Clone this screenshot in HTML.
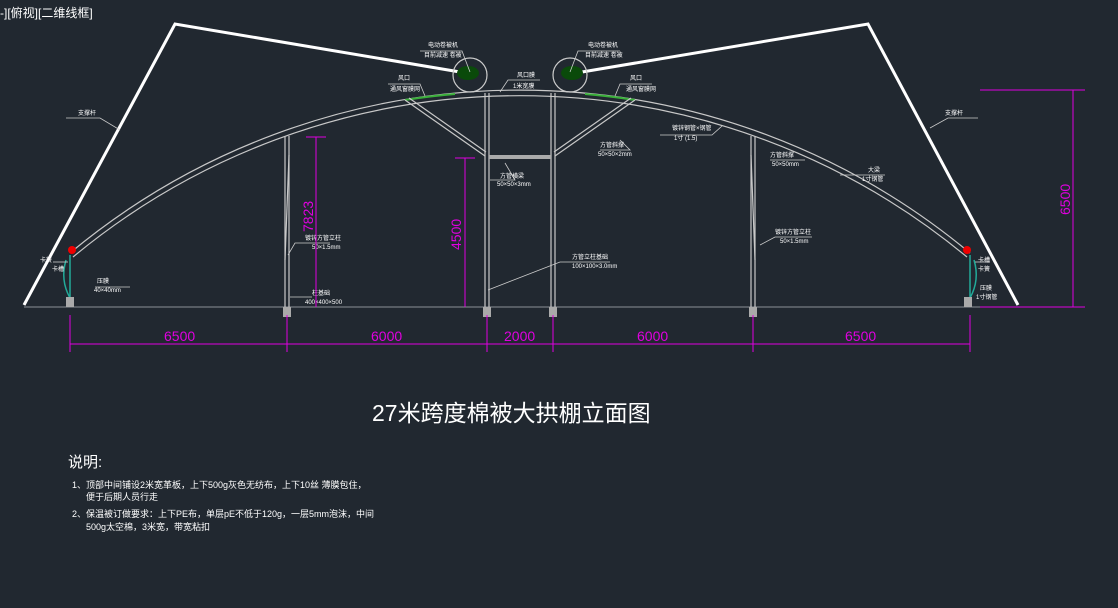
<!DOCTYPE html>
<html><head><meta charset="utf-8"><style>
body{margin:0;background:#212830;width:1118px;height:608px;overflow:hidden;font-family:"Liberation Sans","Noto Sans CJK SC",sans-serif}
svg{position:absolute;left:0;top:0}
.t{fill:#fff;font-family:"Liberation Sans","Noto Sans CJK SC",sans-serif}
</style></head><body>
<svg width="1118" height="608" viewBox="0 0 1118 608">
<text x="0" y="17" class="t" font-size="12" fill="#ddd">-][俯视][二维线框]</text>
<polyline points="24,305 175,24 460,72" fill="none" stroke="#fff" stroke-width="3"/>
<polyline points="1018,305 868,24 582,72" fill="none" stroke="#fff" stroke-width="3"/>
<line x1="24" y1="307" x2="1018" y2="307" stroke="#8a8f96" stroke-width="1"/>
<path d="M70,253 A703,703 0 0 1 970,253" fill="none" stroke="#c8c8c8" stroke-width="1.2"/>
<path d="M73,257 A700,700 0 0 1 967,257" fill="none" stroke="#c8c8c8" stroke-width="1.2"/>
<path d="M405,100 A703,703 0 0 1 455,94" fill="none" stroke="#3ab03a" stroke-width="2"/>
<path d="M585,94 A703,703 0 0 1 635,100" fill="none" stroke="#3ab03a" stroke-width="2"/>
<path d="M70,255 L70,300 M66,260 Q60,280 70,298" stroke="#2a9" stroke-width="1.5" fill="none"/>
<path d="M970,255 L970,300 M974,260 Q980,280 970,298" stroke="#2a9" stroke-width="1.5" fill="none"/>
<circle cx="72" cy="250" r="4" fill="#e00"/><circle cx="967" cy="250" r="4" fill="#e00"/>
<g stroke="#c8c8c8" stroke-width="1.2" fill="none">
<path d="M285,136 L285,307 M289,136 L289,307"/>
<path d="M751,136 L751,307 M755,136 L755,307"/>
<path d="M485,93 L485,307 M489,93 L489,307"/>
<path d="M551,93 L551,307 M555,93 L555,307"/>
<path d="M405,100 L485,156 M409,98 L486,152"/>
<path d="M635,100 L555,156 M631,98 L554,152"/>
<path d="M289,155 L285,260"/><path d="M751,155 L755,260"/>
</g>
<rect x="489" y="155" width="62" height="4" fill="#aaa"/>
<g fill="#aaa"><rect x="283" y="307" width="8" height="10"/><rect x="483" y="307" width="8" height="10"/><rect x="549" y="307" width="8" height="10"/><rect x="749" y="307" width="8" height="10"/><rect x="66" y="297" width="8" height="10"/><rect x="964" y="297" width="8" height="10"/></g>
<circle cx="470" cy="75" r="17" fill="none" stroke="#ccc" stroke-width="1.2"/>
<ellipse cx="468" cy="73" rx="11" ry="7" fill="#0a4a0a"/>
<circle cx="570" cy="75" r="17" fill="none" stroke="#ccc" stroke-width="1.2"/>
<ellipse cx="572" cy="73" rx="11" ry="7" fill="#0a4a0a"/>
<g stroke="#ccc" stroke-width="0.8" fill="none">
<path d="M420,51 L462,51 L470,72"/><path d="M620,51 L578,51 L570,72"/>
<path d="M388,84 L420,84 L425,96"/><path d="M652,84 L620,84 L615,96"/>
<path d="M540,80 L508,80 L500,92"/>
<path d="M66,118 L100,118 L120,130"/><path d="M978,118 L948,118 L930,128"/>
<path d="M660,135 L712,135 L722,126"/><path d="M600,150 L630,150 L620,140"/>
<path d="M490,180 L515,180 L505,163"/>
<path d="M330,243 L295,243 L288,255"/><path d="M812,237 L775,237 L760,245"/>
<path d="M770,160 L805,160"/><path d="M840,175 L885,175"/>
<path d="M312,297 L290,297"/><path d="M95,287 L130,287"/>
<path d="M488,290 L560,262 L610,262"/>
<path d="M53,262 L68,262"/><path d="M975,262 L990,262"/>
</g>
<g class="t" font-size="6">
<text x="428" y="47">电动卷被机</text><text x="424" y="57">目前减速 卷被</text>
<text x="588" y="47">电动卷被机</text><text x="585" y="57">目前减速 卷被</text>
<text x="398" y="80">风口</text><text x="390" y="91">通风窗膜网</text>
<text x="630" y="80">风口</text><text x="626" y="91">通风窗膜网</text>
<text x="517" y="77">风口膜</text><text x="513" y="88">1米宽膜</text>
<text x="78" y="115">支撑杆</text><text x="945" y="115">支撑杆</text>
<text x="672" y="130">镀锌钢管×钢管</text><text x="674" y="140">1寸 (1.5)</text>
<text x="600" y="147">方管斜撑</text><text x="598" y="156">50×50×2mm</text>
<text x="500" y="178">方管横梁</text><text x="497" y="186">50×50×3mm</text>
<text x="305" y="240">镀锌方管立柱</text><text x="312" y="249">50×1.5mm</text>
<text x="775" y="234">镀锌方管立柱</text><text x="780" y="243">50×1.5mm</text>
<text x="770" y="157">方管斜撑</text><text x="772" y="166">50×50mm</text>
<text x="868" y="172">大梁</text><text x="862" y="181">1寸钢管</text>
<text x="312" y="295">柱基础</text><text x="305" y="304">400×400×500</text>
<text x="97" y="283">压膜</text><text x="94" y="292">40×40mm</text>
<text x="572" y="259">方管立柱基础</text><text x="572" y="268">100×100×3.0mm</text>
<text x="40" y="262">卡簧</text><text x="52" y="271">卡槽</text>
<text x="978" y="262">卡槽</text><text x="978" y="271">卡簧</text>
<text x="980" y="290">压膜</text><text x="976" y="299">1寸钢管</text>
</g>
<g stroke="#e000e0" stroke-width="1" fill="#e000e0">
<line x1="465" y1="158" x2="465" y2="307"/><line x1="455" y1="158" x2="475" y2="158"/>
<line x1="316" y1="137" x2="316" y2="307"/><line x1="306" y1="137" x2="326" y2="137"/>
<line x1="1073" y1="90" x2="1073" y2="307"/><line x1="980" y1="90" x2="1085" y2="90"/><line x1="980" y1="307" x2="1085" y2="307"/>
<line x1="70" y1="315" x2="70" y2="352"/><line x1="287" y1="315" x2="287" y2="352"/><line x1="487" y1="315" x2="487" y2="352"/><line x1="553" y1="315" x2="553" y2="352"/><line x1="753" y1="315" x2="753" y2="352"/><line x1="970" y1="315" x2="970" y2="352"/>
<line x1="70" y1="344" x2="970" y2="344"/>
</g>
<g fill="#e000e0" font-size="14" font-family="Liberation Sans,sans-serif">
<text x="461" y="250" transform="rotate(-90 461 250)">4500</text>
<text x="313" y="232" transform="rotate(-90 313 232)">7823</text>
<text x="1070" y="215" transform="rotate(-90 1070 215)">6500</text>
<text x="164" y="341">6500</text><text x="371" y="341">6000</text><text x="504" y="341">2000</text><text x="637" y="341">6000</text><text x="845" y="341">6500</text>
</g>
<text x="372" y="421" class="t" font-size="23">27米跨度棉被大拱棚立面图</text>
<text x="68" y="467" class="t" font-size="15">说明:</text>
<g class="t" font-size="9">
<text x="72" y="488">1、顶部中间铺设2米宽革板，上下500g灰色无纺布，上下10丝 薄膜包住，</text>
<text x="86" y="500">便于后期人员行走</text>
<text x="72" y="517">2、保温被订做要求：上下PE布，单层pE不低于120g，一层5mm泡沫，中间</text>
<text x="86" y="530">500g太空棉，3米宽，带宽粘扣</text>
</g>
</svg>
</body></html>
